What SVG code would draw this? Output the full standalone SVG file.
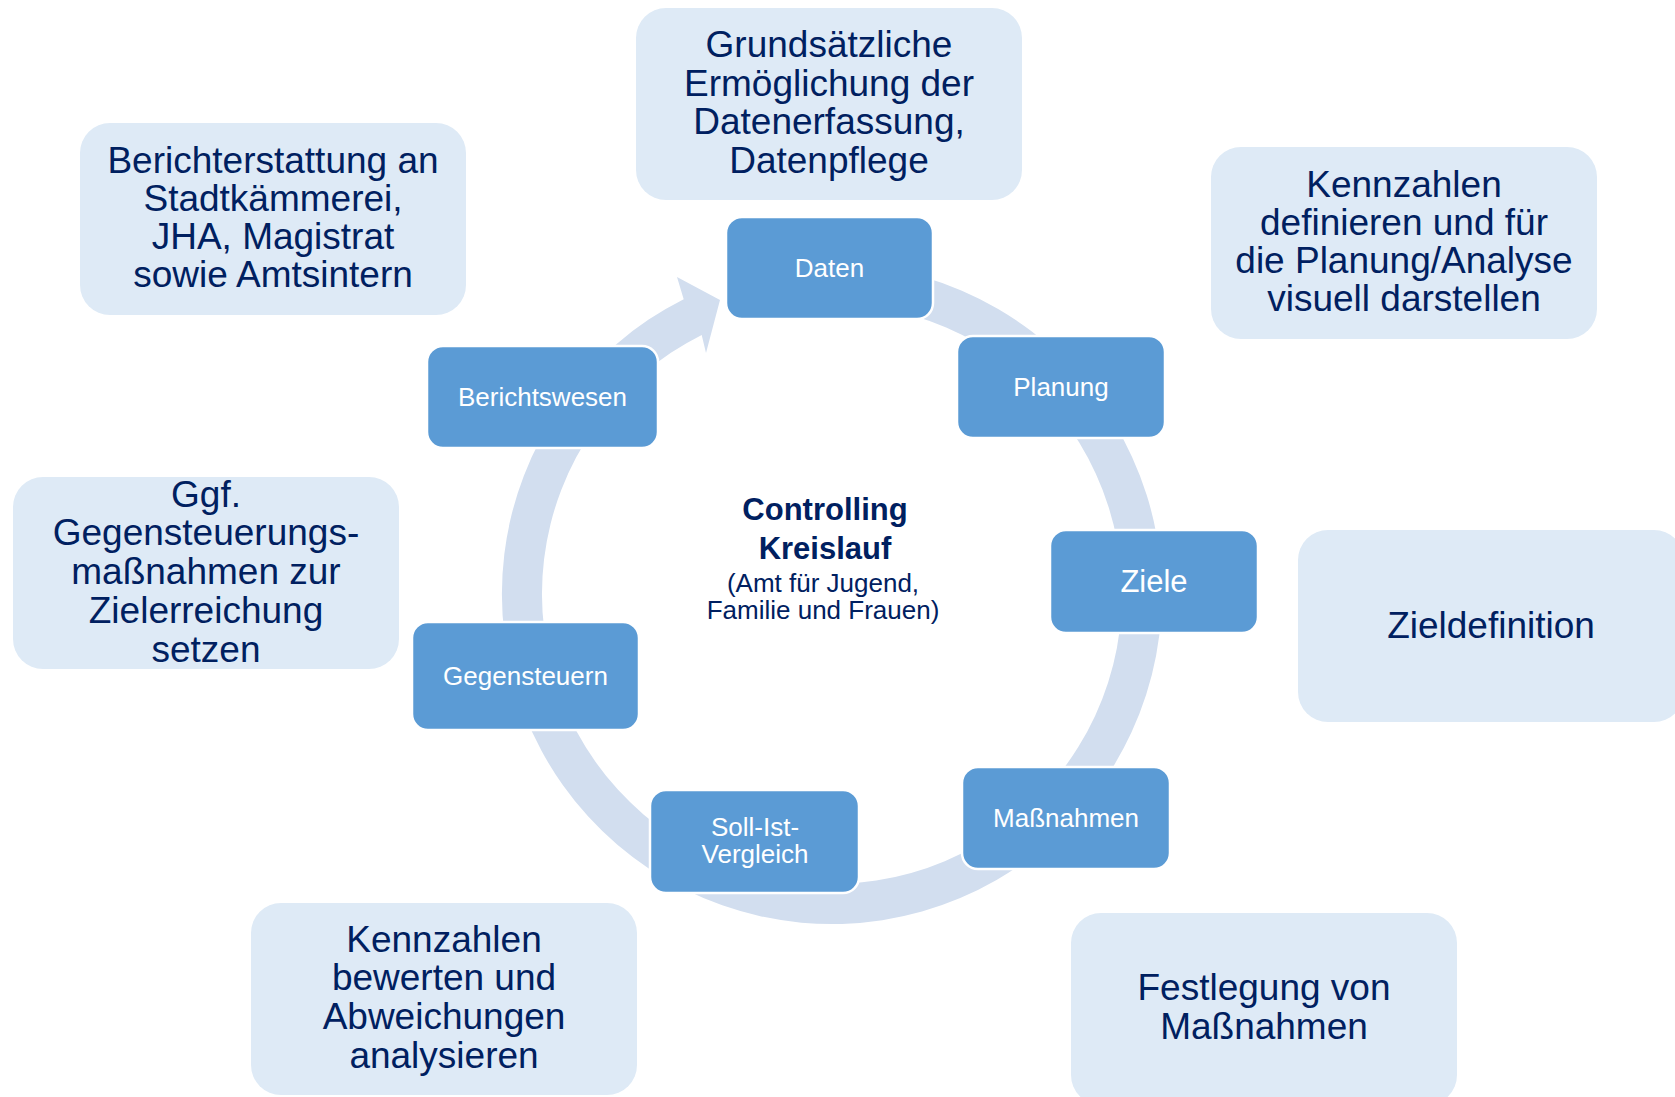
<svg xmlns="http://www.w3.org/2000/svg" width="1675" height="1097" viewBox="0 0 1675 1097">
<style>
.lb{fill:#DEEAF6}
.lt{font-family:"Liberation Sans",Arial,sans-serif;font-size:37px;fill:#002060;text-anchor:middle}
.nd{fill:#5B9BD5;stroke:#FFFFFF;stroke-width:2.5}
.nt{font-family:"Liberation Sans",Arial,sans-serif;font-size:26px;fill:#FFFFFF;text-anchor:middle}
.ct{font-family:"Liberation Sans",Arial,sans-serif;fill:#002060;text-anchor:middle}
</style>
<rect width="1675" height="1097" fill="#FFFFFF"/>
<g id="box-grundsaetzlich">
<rect class="lb" x="636" y="8" width="386" height="192" rx="30"/>
<text class="lt" x="829" y="57">Grundsätzliche</text>
<text class="lt" x="829" y="96">Ermöglichung der</text>
<text class="lt" x="829" y="134">Datenerfassung,</text>
<text class="lt" x="829" y="173">Datenpflege</text>
</g>
<g id="box-berichterstattung">
<rect class="lb" x="80" y="123" width="386" height="192" rx="30"/>
<text class="lt" x="273" y="173">Berichterstattung an</text>
<text class="lt" x="273" y="211">Stadtkämmerei,</text>
<text class="lt" x="273" y="249">JHA, Magistrat</text>
<text class="lt" x="273" y="287">sowie Amtsintern</text>
</g>
<g id="box-kennzahlen-definieren">
<rect class="lb" x="1211" y="147" width="386" height="192" rx="30"/>
<text class="lt" x="1404" y="197">Kennzahlen</text>
<text class="lt" x="1404" y="235">definieren und für</text>
<text class="lt" x="1404" y="273">die Planung/Analyse</text>
<text class="lt" x="1404" y="311">visuell darstellen</text>
</g>
<g id="box-ggf">
<rect class="lb" x="13" y="477" width="386" height="192" rx="30"/>
<text class="lt" x="206" y="507">Ggf.</text>
<text class="lt" x="206" y="545">Gegensteuerungs-</text>
<text class="lt" x="206" y="584">maßnahmen zur</text>
<text class="lt" x="206" y="623">Zielerreichung</text>
<text class="lt" x="206" y="662">setzen</text>
</g>
<g id="box-zieldefinition">
<rect class="lb" x="1298" y="530" width="386" height="192" rx="30"/>
<text class="lt" x="1491" y="638">Zieldefinition</text>
</g>
<g id="box-kennzahlen-bewerten">
<rect class="lb" x="251" y="903" width="386" height="192" rx="30"/>
<text class="lt" x="444" y="952">Kennzahlen</text>
<text class="lt" x="444" y="990">bewerten und</text>
<text class="lt" x="444" y="1029">Abweichungen</text>
<text class="lt" x="444" y="1068">analysieren</text>
</g>
<g id="box-festlegung">
<rect class="lb" x="1071" y="913" width="386" height="192" rx="30"/>
<text class="lt" x="1264" y="1000">Festlegung von</text>
<text class="lt" x="1264" y="1039">Maßnahmen</text>
</g>
<g id="connectors">
<path fill="#D2DEEF" d="M803.2,265.3 A330,330 0 1 1 683.7,299.2 L677,277 L720,300 L706,353 L701.7,334.9 A290,290 0 1 0 806.7,305.1 Z"/>
</g>
<g id="center-label">
<text class="ct" x="825" y="520" style="font-size:31px;font-weight:bold">Controlling</text>
<text class="ct" x="825" y="559" style="font-size:31px;font-weight:bold">Kreislauf</text>
<text class="ct" x="823" y="592" style="font-size:26px">(Amt für Jugend,</text>
<text class="ct" x="823" y="619" style="font-size:26px">Familie und Frauen)</text>
</g>
<g id="node-daten">
<rect class="nd" x="726" y="217" width="207" height="102" rx="16"/>
<text class="nt" x="829.5" y="277">Daten</text>
</g>
<g id="node-planung">
<rect class="nd" x="957" y="336" width="208" height="102" rx="16"/>
<text class="nt" x="1061" y="396">Planung</text>
</g>
<g id="node-ziele">
<rect class="nd" x="1050" y="530" width="208" height="103" rx="16"/>
<text class="nt" x="1154" y="592" style="font-size:31px">Ziele</text>
</g>
<g id="node-massnahmen">
<rect class="nd" x="962" y="767" width="208" height="102" rx="16"/>
<text class="nt" x="1066" y="827">Maßnahmen</text>
</g>
<g id="node-soll-ist">
<rect class="nd" x="650" y="790" width="209" height="103" rx="16"/>
<text class="nt" x="755" y="836">Soll-Ist-</text>
<text class="nt" x="755" y="863">Vergleich</text>
</g>
<g id="node-gegensteuern">
<rect class="nd" x="412" y="622" width="227" height="108" rx="16"/>
<text class="nt" x="525.5" y="685">Gegensteuern</text>
</g>
<g id="node-berichtswesen">
<rect class="nd" x="427" y="346" width="231" height="102" rx="16"/>
<text class="nt" x="542.5" y="406">Berichtswesen</text>
</g>
</svg>
